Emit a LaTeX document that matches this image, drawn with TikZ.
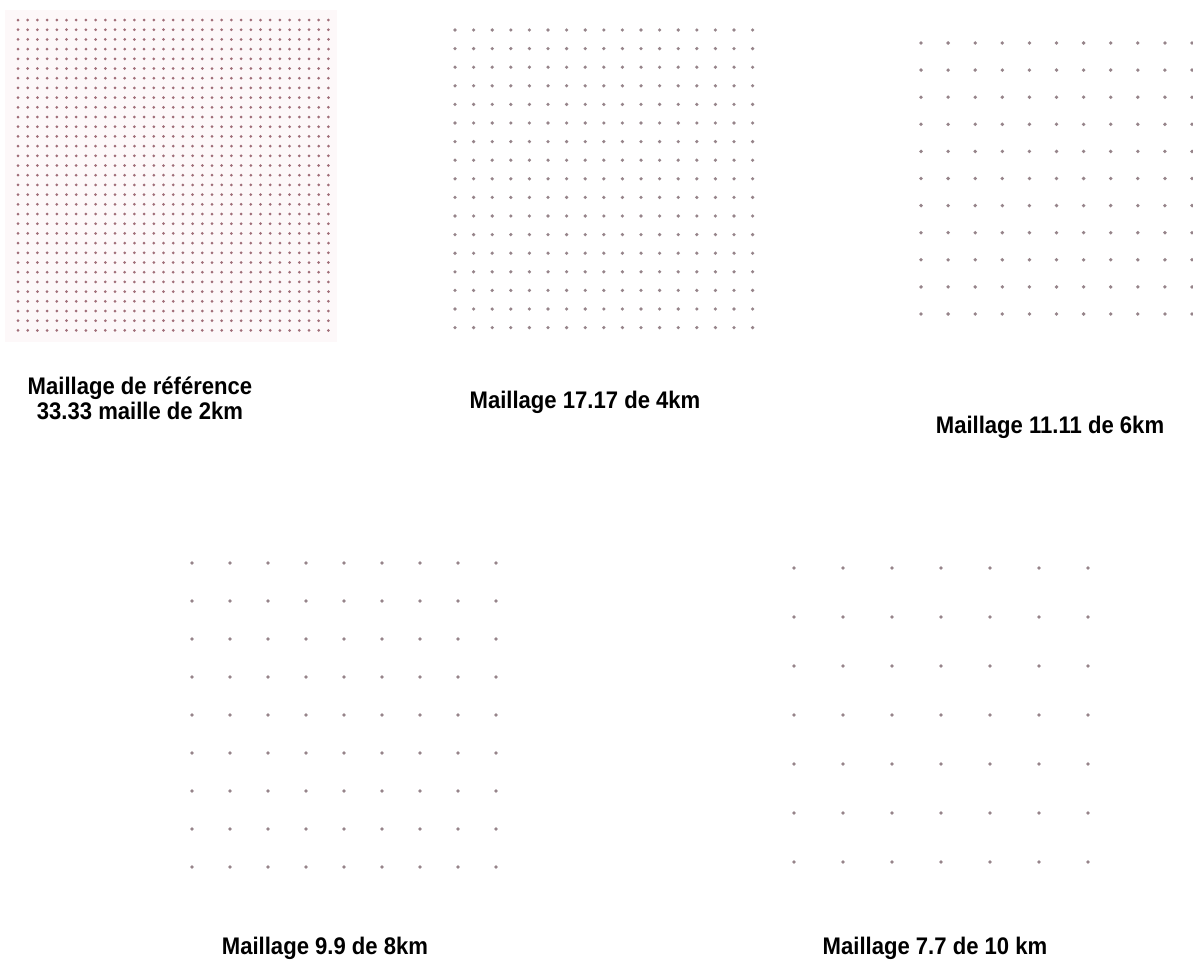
\documentclass[tikz,border=0pt]{standalone}
\usepackage{fontspec}
\newfontfamily\labfont[FakeStretch=0.92]{Liberation Sans}
\definecolor{dotc}{RGB}{150,132,138}
\definecolor{dotr}{RGB}{160,110,120}
\definecolor{pinkbg}{RGB}{253,248,249}
\tikzset{
  lab/.style={font=\labfont\bfseries\fontsize{24}{25}\selectfont, align=center, inner sep=0pt},
  gdot/.style={fill=dotc, draw=none},
  rdot/.style={fill=dotr, draw=none}
}
\newcommand{\dotgrid}[6]{% x0, y0, step, n-1, radius, style
  \foreach \i in {0,...,#4}{\foreach \j in {0,...,#4}{
    \fill[#6] ({#1+\i*#3},{#2+\j*#3}) circle (#5);}}}
\begin{document}
\begin{tikzpicture}[x=1pt,y=-1pt]
\useasboundingbox (0,0) rectangle (1193,978);
% grid 1 background
\fill[pinkbg] (5,10) rectangle (337,342);
\dotgrid{18}{20}{9.7}{32}{1.5pt}{rdot}
\dotgrid{455}{30}{18.6}{16}{1.8pt}{gdot}
\dotgrid{921}{43}{27.1}{10}{1.9pt}{gdot}
\dotgrid{192}{563}{38}{8}{1.9pt}{gdot}
\dotgrid{794}{568}{49}{6}{1.9pt}{gdot}
\node[lab] (l1) at (140,398) {Maillage de référence\\33.33 maille de 2km};
\node[lab] (l2) at (585,402) {Maillage 17.17 de 4km};
\node[lab] (l3) at (1050,427) {Maillage 11.11 de 6km};
\node[lab] (l4) at (325,948) {Maillage 9.9 de 8km};
\node[lab] (l5) at (935,948) {Maillage 7.7 de 10 km};
\end{tikzpicture}
\end{document}
